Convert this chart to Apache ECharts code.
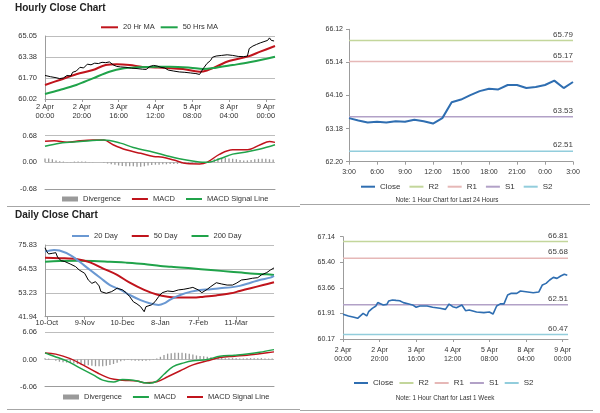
<!DOCTYPE html>
<html><head><meta charset="utf-8">
<script src="https://cdn.jsdelivr.net/npm/echarts@6/dist/echarts.min.js"></script>
<style>html,body{margin:0;padding:0;background:#fff}#c{width:600px;height:413px}</style>
</head><body><div id="c"></div>
<script>
const FONT = 'Liberation Sans';

// ---------- Hourly (last week) ----------
const hourTickPos = [0, 20, 40, 60, 80, 100, 120];
const hourTickLabels = ['2 Apr\n00:00', '2 Apr\n20:00', '3 Apr\n16:00', '4 Apr\n12:00', '5 Apr\n08:00', '8 Apr\n04:00', '9 Apr\n00:00'];
const priceATicks = [60.02, 61.70, 63.38, 65.05];
const macdATicks = [-0.68, 0.00, 0.68];

const priceA = [[0,61.90],[3,61.80],[6,61.72],[8,61.65],[10,61.70],[12,61.90],[14,61.85],[15,62.15],[17,62.25],[19,62.55],[21,62.50],[23,62.80],[25,62.75],[27,62.88],[29,62.85],[31,62.95],[33,62.92],[35,62.98],[37,62.75],[39,62.62],[41,62.58],[44,62.55],[47,62.48],[50,62.45],[53,62.40],[55,62.38],[57,62.62],[59,62.70],[61,62.65],[63,62.55],[65,62.50],[67,62.33],[70,62.25],[73,62.18],[76,62.15],[79,62.10],[82,62.05],[84,61.98],[85,62.10],[86,62.45],[88,62.85],[90,63.10],[91,63.35],[93,63.45],[96,63.50],[99,63.55],[102,63.50],[105,63.42],[108,63.40],[110,63.45],[111,64.05],[113,64.25],[115,64.38],[117,64.50],[119,64.60],[121,64.70],[122,64.90],[123,64.70],[124.5,64.65]];
const ma20Hr = [[0,61.14],[8,61.54],[17,61.99],[26,62.33],[33,62.73],[39,62.79],[46,62.73],[53,62.58],[60,62.54],[66,62.50],[75,62.41],[84,62.20],[88,62.30],[93,62.60],[100,63.05],[110,63.40],[117,63.80],[125,64.25]];
const ma50Hr = [[0,60.42],[8,60.74],[17,61.14],[26,61.67],[35,62.20],[43,62.47],[50,62.55],[60,62.60],[68,62.60],[79,62.52],[86,62.41],[93,62.52],[102,62.73],[111,62.95],[119,63.19],[125,63.40]];
const macdHr = [[0,0.54],[5,0.55],[12,0.51],[19,0.55],[26,0.57],[32,0.57],[37,0.45],[44,0.32],[52,0.23],[59,0.15],[64,0.13],[70,0.06],[77,-0.03],[84,-0.04],[88,0.00],[95,0.21],[102,0.32],[110,0.32],[117,0.45],[122,0.53],[125,0.51]];
const signalHr = [[0,0.41],[8,0.49],[19,0.53],[32,0.57],[41,0.49],[48,0.38],[59,0.26],[66,0.17],[73,0.09],[81,0.03],[88,0.00],[95,0.09],[102,0.21],[110,0.27],[117,0.34],[125,0.45]];
// divergence every 2 hours, starting at hour 0
const divHr = [0.10,0.10,0.08,0.05,0.03,0.02,0.01,0.01,0.02,0.02,0.02,0.02,0.01,0.01,0.00,0.00,-0.01,-0.03,-0.05,-0.06,-0.08,-0.09,-0.10,-0.10,-0.10,-0.11,-0.11,-0.10,-0.08,-0.07,-0.06,-0.06,-0.05,-0.05,-0.04,-0.04,-0.04,-0.03,-0.03,-0.03,-0.02,-0.02,-0.02,-0.01,0.01,0.05,0.08,0.10,0.11,0.11,0.10,0.09,0.08,0.06,0.05,0.05,0.06,0.08,0.09,0.09,0.09,0.08,0.07];

// ---------- Last 24 hours ----------
const dayHourTickPos = [0, 3, 6, 9, 12, 15, 18, 21, 24];
const dayHourLabels = ['3:00', '6:00', '9:00', '12:00', '15:00', '18:00', '21:00', '0:00', '3:00'];
const closeBTicks = [62.20, 63.18, 64.16, 65.14, 66.12];
const close24 = [63.49,63.42,63.36,63.38,63.36,63.40,63.38,63.44,63.40,63.33,63.49,63.96,64.04,64.17,64.29,64.36,64.34,64.47,64.47,64.38,64.41,64.47,64.60,64.38,64.56];
const levelsB = {R2: 65.79, R1: 65.17, S1: 63.53, S2: 62.51};

// ---------- Daily ----------
const dayTickPos = [1, 22, 43, 64, 85, 106];
const dayTickLabels = ['10-Oct', '9-Nov', '10-Dec', '8-Jan', '7-Feb', '11-Mar'];
const priceCTicks = [41.94, 53.23, 64.53, 75.83];
const macdCTicks = [-6.06, 0.00, 6.06];
const priceC = [[0,74.5],[1,72.7],[2,71.6],[4,71.9],[6,72.2],[7,70.0],[9,68.4],[11,68.0],[14,66.85],[17,65.6],[19,64.0],[22,62.45],[24,59.3],[26,57.7],[28,58.5],[30,56.5],[31,53.8],[34,53.0],[37,53.8],[40,55.4],[43,54.6],[45,53.3],[47,51.4],[49,49.0],[51,48.0],[53,46.7],[55,44.3],[56,46.7],[59,47.5],[61,49.0],[63,51.4],[65,53.3],[68,54.1],[71,53.8],[74,54.6],[77,54.9],[80,55.4],[82,55.8],[85,54.6],[87,53.3],[90,54.9],[92,56.2],[95,58.0],[98,57.4],[101,56.9],[104,56.9],[106,57.7],[109,59.3],[112,59.6],[115,60.1],[118,60.4],[120,61.7],[123,62.8],[125,64.0],[127,65.0]];
const ma20Day = [[0,72.7],[5,73.5],[8,73.2],[14,71.1],[19,68.0],[25,64.0],[31,60.1],[36,56.9],[42,54.6],[47,52.2],[53,49.8],[58,48.3],[63,47.5],[66,48.2],[70,50.3],[75,52.2],[81,53.8],[86,54.6],[92,54.9],[97,55.4],[103,55.8],[108,56.5],[114,58.0],[119,59.3],[125,60.4],[127,61.2]];
const ma50Day = [[0,69.8],[8,69.6],[18,69.1],[25,67.6],[32,64.8],[40,61.7],[47,58.0],[55,54.6],[62,52.4],[68,51.4],[75,51.0],[82,51.0],[88,51.4],[95,52.0],[103,53.0],[108,54.1],[114,55.4],[121,56.9],[127,58.2]];
const ma200Day = [[0,67.9],[8,68.3],[18,68.4],[27,68.3],[36,67.9],[45,67.5],[55,66.85],[64,65.9],[70,65.6],[81,64.8],[92,64.0],[103,63.2],[114,62.4],[123,62.0],[127,61.7]];
const macdDay = [[0,1.47],[5,0.73],[12,-0.3],[19,-1.8],[27,-3.5],[32,-4.6],[38,-5.0],[43,-4.45],[49,-4.6],[55,-5.2],[58,-5.3],[62,-4.8],[66,-3.3],[71,-1.6],[77,-0.75],[82,-0.3],[90,0.0],[97,0.73],[105,0.96],[112,1.2],[119,1.6],[127,2.2]];
const signalDay = [[0,1.47],[6,1.2],[14,0.2],[21,-1.2],[29,-2.96],[36,-4.2],[43,-4.6],[51,-4.8],[56,-5.2],[62,-4.96],[68,-3.85],[75,-2.5],[82,-1.2],[90,-0.3],[97,0.44],[105,0.73],[112,0.96],[119,1.3],[127,1.7]];
// divergence every 2 days, starting at day 0
const divDay = [0.3,0.2,0.0,-0.3,-0.5,-0.6,-0.7,-0.8,-0.9,-1.0,-1.1,-1.2,-1.3,-1.4,-1.5,-1.5,-1.5,-1.4,-1.2,-1.0,-0.7,-0.4,-0.2,-0.1,-0.2,-0.3,-0.3,-0.3,-0.3,-0.2,-0.1,0.2,0.6,1.0,1.3,1.4,1.5,1.5,1.5,1.4,1.3,1.1,0.9,0.8,0.7,0.6,0.5,0.5,0.4,0.4,0.3,0.3,0.3,0.3,0.2,0.2,0.3,0.3,0.3,0.3,0.3,0.2,0.2,0.2];

// ---------- Last week (hourly) ----------
const closeDTicks = [60.17, 61.91, 63.66, 65.40, 67.14];
const closeWeek = [[0,61.85],[3,61.74],[6,61.65],[8,61.58],[9,61.69],[11,61.92],[12,61.81],[13,61.74],[14,62.03],[16,62.26],[17,62.15],[18,62.42],[19,62.65],[20,62.56],[22,62.49],[24,62.53],[25,62.76],[27,62.83],[29,62.80],[31,62.78],[33,62.65],[36,62.56],[38,62.49],[40,62.33],[42,62.42],[46,62.42],[49,62.33],[53,62.26],[56,62.19],[58,62.55],[60,62.37],[62,62.30],[63,62.33],[65,62.49],[66,62.45],[67,62.10],[69,62.15],[73,62.01],[77,61.97],[80,62.01],[82,61.87],[83,61.90],[84,62.42],[86,62.56],[88,62.56],[90,63.17],[92,63.28],[95,63.28],[97,63.44],[100,63.39],[104,63.32],[107,63.37],[108,63.33],[109,63.85],[111,63.96],[113,64.19],[115,64.37],[117,64.30],[119,64.46],[120,64.37],[121,64.58],[122,64.46],[122.6,64.52]];
const levelsD = {R2: 66.81, R1: 65.68, S1: 62.51, S2: 60.47};

// ---------- styling ----------
const RED = '#c0141c', GREEN = '#20a34a', BLUE = '#2f6eb1', LBLUE = '#6a98d2', GRAY = '#9a9a9a';
const LVL_COL = {R2: '#c3d69b', R1: '#e6b8b7', S1: '#b2a1c7', S2: '#92cddc'};
const AX = '#9c9c9c', GRID = '#bdbdbd', TXT = '#333';

function grid(l, t, w, h) { return {left: l, top: t, width: w, height: h, containLabel: false, outerBoundsMode: 'none'}; }
function fmtFrom(pos, labels) { return v => { const i = pos.indexOf(Math.round(v * 1000) / 1000); return i < 0 ? '' : labels[i]; }; }

function xAx(gi, max, pos, labels, opt) {
  opt = opt || {};
  return {
    gridIndex: gi, type: 'value', min: 0, max: max,
    axisLine: {show: true, onZero: false, lineStyle: {color: AX, width: 1}},
    axisTick: {show: !!labels, length: 3, customValues: pos || undefined, lineStyle: {color: AX}},
    axisLabel: labels ? {show: true, customValues: pos, formatter: fmtFrom(pos, labels), fontSize: opt.fs || 7.5,
      fontFamily: FONT, color: TXT, lineHeight: opt.lh || 9, margin: opt.margin || 5} : {show: false},
    splitLine: {show: false}
  };
}
function yAx(gi, ticks, opt) {
  return {
    gridIndex: gi, type: 'value', min: ticks[0], max: ticks[ticks.length - 1],
    axisLine: {show: !!opt.line, lineStyle: {color: AX, width: 1}},
    axisTick: {show: !!opt.tick, length: 3, customValues: ticks, lineStyle: {color: AX}},
    axisLabel: {customValues: ticks, formatter: v => v.toFixed(2), fontSize: opt.fs || 7.5,
      fontFamily: FONT, color: TXT, margin: opt.margin || 8},
    splitLine: {show: !!opt.split, lineStyle: {color: GRID, width: 1}}
  };
}
function line(name, gi, data, color, width, smooth, z) {
  return {name: name, type: 'line', xAxisIndex: gi, yAxisIndex: gi, data: data, symbol: 'none',
    smooth: smooth ? 0.35 : false, lineStyle: {color: color, width: width}, itemStyle: {color: color}, z: z || 2};
}
function bars(name, gi, vals, step) {
  return {name: name, type: 'bar', xAxisIndex: gi, yAxisIndex: gi, data: vals.map((v, i) => [i * step, v]),
    barWidth: 1.3, itemStyle: {color: GRAY}, z: 1};
}
function levelSeries(gi, levels, xmax) {
  return ['R2', 'R1', 'S1', 'S2'].map(k => ({
    name: k, type: 'line', xAxisIndex: gi, yAxisIndex: gi, symbol: 'none',
    data: [[0, levels[k]], [xmax, levels[k]]],
    lineStyle: {color: LVL_COL[k], width: 1.5}, itemStyle: {color: LVL_COL[k]}, z: 1,
    markPoint: {symbol: 'circle', symbolSize: 0, silent: true,
      data: [{coord: [xmax, levels[k]], value: levels[k]}],
      label: {show: true, position: 'top', align: 'right', distance: 2, formatter: p => p.value.toFixed(2),
        fontSize: 8, fontFamily: FONT, color: '#404040'}}
  }));
}
const divItem = {name: 'Divergence', icon: 'rect', itemStyle: {opacity: 1, color: GRAY}};
function legend(left, top, data, opt) {
  return {left: left, top: top, padding: 0, itemWidth: opt.iw || 16, itemHeight: 5, itemGap: opt.gap || 10,
    data: data, formatter: n => n.trim(), selectedMode: false, itemStyle: {opacity: 0},
    textStyle: {fontSize: opt.fs || 7.5, fontFamily: FONT, color: TXT}};
}

const chart = echarts.init(document.getElementById('c'), null, {renderer: 'canvas'});
chart.setOption({
  backgroundColor: '#fff', animation: false,
  grid: [grid(45, 36, 230, 63), grid(45, 135.7, 230, 53.3), grid(349, 29.3, 224, 132.4),
         grid(45, 245, 229, 71.7), grid(45, 332.3, 229, 54.4), grid(343, 236.7, 225, 102.3)],
  xAxis: [
    xAx(0, 125, hourTickPos, hourTickLabels, {margin: 4, lh: 8.5}),
    xAx(1, 125, null, null),
    xAx(2, 24, dayHourTickPos, dayHourLabels, {fs: 7, margin: 6}),
    xAx(3, 127, dayTickPos, dayTickLabels, {margin: 2}),
    xAx(4, 127, null, null),
    xAx(5, 123, hourTickPos, hourTickLabels, {fs: 7, margin: 7, lh: 9})
  ],
  yAxis: [
    yAx(0, priceATicks, {line: true, split: true}),
    yAx(1, macdATicks, {split: true}),
    yAx(2, closeBTicks, {line: true, tick: true, fs: 7, margin: 6}),
    yAx(3, priceCTicks, {line: true, split: true}),
    yAx(4, macdCTicks, {split: true}),
    yAx(5, closeDTicks, {line: true, tick: true, fs: 7, margin: 8})
  ],
  legend: [
    legend(100, 23.3, ['20 Hr MA', '50 Hrs MA'], {iw: 17, gap: 5}),
    legend(62, 195, [divItem, 'MACD', 'MACD Signal Line'], {iw: 16, gap: 10}),
    legend(360, 182.7, ['Close', 'R2', 'R1', 'S1', 'S2'], {iw: 14, gap: 8, fs: 8}),
    legend(71, 232, ['20 Day', '50 Day', '200 Day'], {iw: 17, gap: 13}),
    legend(63, 393, [divItem, 'MACD ', 'MACD Signal Line '], {iw: 16, gap: 10}),
    legend(353, 379, ['Close', 'R2', 'R1', 'S1', 'S2'], {iw: 14, gap: 5, fs: 8})
  ],
  series: [
    line('20 Hr MA', 0, ma20Hr, RED, 2, true),
    line('50 Hrs MA', 0, ma50Hr, GREEN, 2, true),
    line('Hourly Price', 0, priceA, '#000', 1, false, 3),
    bars('Divergence', 1, divHr, 2),
    line('MACD', 1, macdHr, RED, 1.5, true),
    line('MACD Signal Line', 1, signalHr, GREEN, 1.5, true),
    ...levelSeries(2, levelsB, 24),
    line('Close', 2, close24.map((v, i) => [i, v]), BLUE, 2, false, 3),
    line('200 Day', 3, ma200Day, GREEN, 2, true),
    line('50 Day', 3, ma50Day, RED, 2, true),
    line('20 Day', 3, ma20Day, LBLUE, 2, true),
    line('Daily Price', 3, priceC, '#000', 1, false, 3),
    bars('Divergence', 4, divDay, 2),
    line('MACD Signal Line ', 4, signalDay, RED, 1.5, true),
    line('MACD ', 4, macdDay, GREEN, 1.5, true),
    ...levelSeries(5, levelsD, 123),
    line('Close', 5, closeWeek, BLUE, 1.6, false, 3)
  ],
  graphic: [
    {type: 'text', x: 15, y: 8, style: {text: 'Hourly Close Chart', font: 'bold 10px "Liberation Sans"', fill: '#222', verticalAlign: 'middle'}},
    {type: 'text', x: 15, y: 215.3, style: {text: 'Daily Close Chart', font: 'bold 10px "Liberation Sans"', fill: '#222', verticalAlign: 'middle'}},
    {type: 'text', x: 447, y: 200, style: {text: 'Note: 1 Hour Chart for Last 24 Hours', font: '6.3px "Liberation Sans"', fill: TXT, align: 'center', verticalAlign: 'middle'}},
    {type: 'text', x: 445, y: 398, style: {text: 'Note: 1 Hour Chart for Last 1 Week', font: '6.3px "Liberation Sans"', fill: TXT, align: 'center', verticalAlign: 'middle'}},
    {type: 'line', shape: {x1: 7, y1: 206.5, x2: 300, y2: 206.5}, style: {stroke: '#a6a6a6', lineWidth: 1}},
    {type: 'line', shape: {x1: 300, y1: 204.5, x2: 590, y2: 204.5}, style: {stroke: '#a6a6a6', lineWidth: 1}},
    {type: 'line', shape: {x1: 7, y1: 409.5, x2: 300, y2: 409.5}, style: {stroke: '#a6a6a6', lineWidth: 1}},
    {type: 'line', shape: {x1: 300, y1: 410.5, x2: 593, y2: 410.5}, style: {stroke: '#a6a6a6', lineWidth: 1}}
  ]
});
</script>
</body></html>
